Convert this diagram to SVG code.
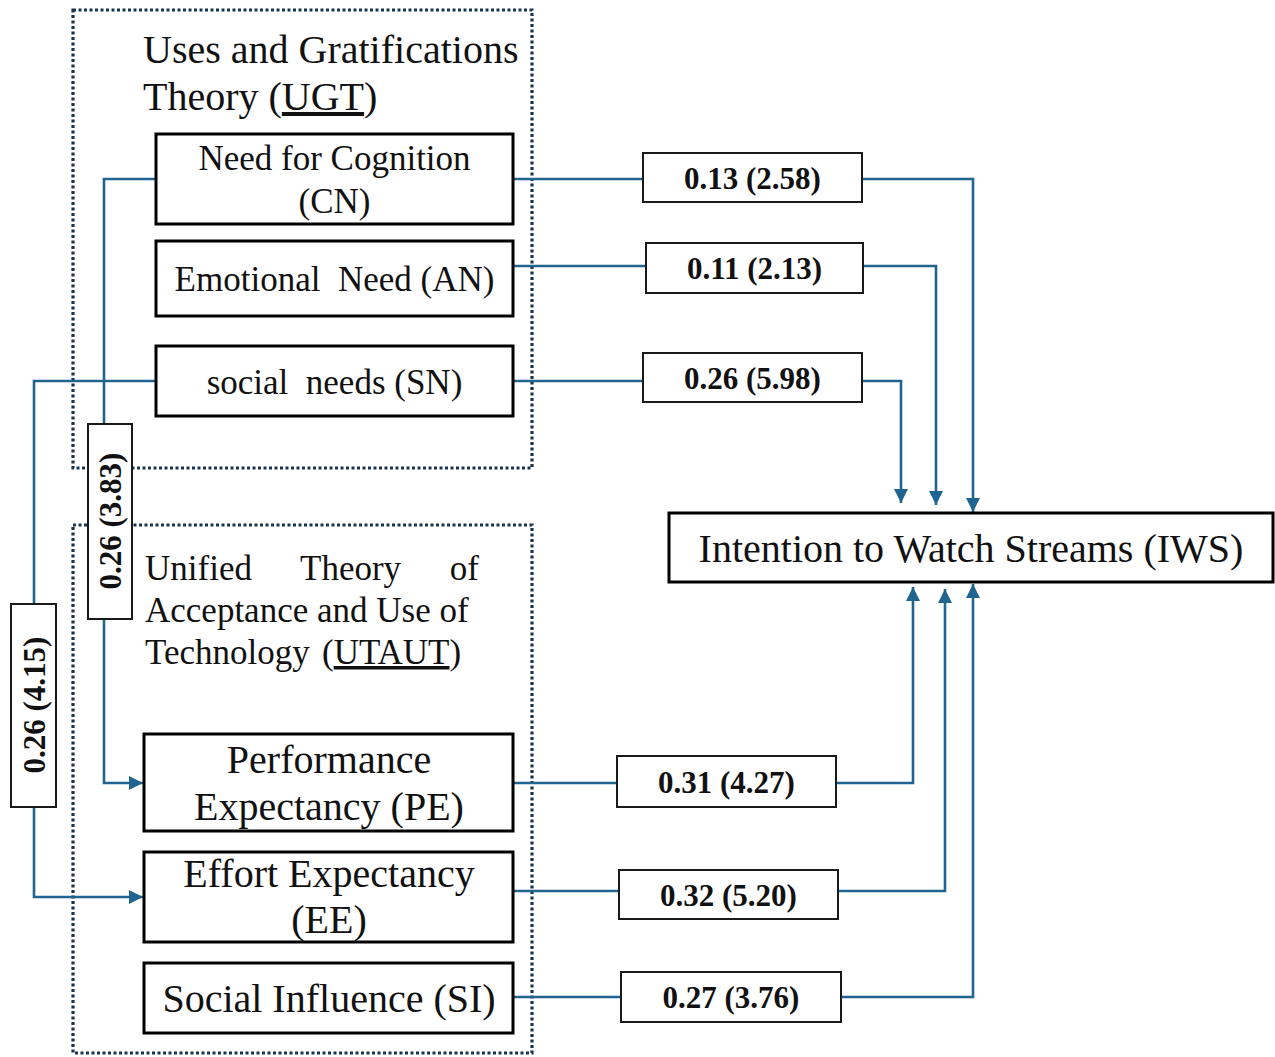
<svg xmlns="http://www.w3.org/2000/svg" width="1275" height="1057" viewBox="0 0 1275 1057">
  <style>
    .frame { fill: none; stroke: #18334f; stroke-width: 3.2; stroke-dasharray: 3 2.5; }
    .node { fill: #ffffff; stroke: #000000; stroke-width: 3; }
    .lbl { fill: #ffffff; stroke: #1a1a1a; stroke-width: 2; }
    .t { font-family: "Liberation Serif", "Times New Roman", serif; fill: #111111; }
    .nt { font-size: 35px; text-anchor: middle; }
    .nb { font-size: 40px; text-anchor: middle; }
    .title { font-size: 40px; }
    .title2 { font-size: 35px; }
    .w { font-size: 31px; font-weight: bold; text-anchor: middle; }
    .edge { fill: none; stroke: #20658f; stroke-width: 2.6; }
    .ul { text-decoration: underline; }
  </style>
  <defs>
    <marker id="arrow" markerUnits="userSpaceOnUse" markerWidth="16" markerHeight="14" refX="14" refY="7" orient="auto">
      <path d="M0,0 L14,7 L0,14 Z" fill="#20658f"/>
    </marker>
  </defs>

  <rect width="1275" height="1057" fill="#ffffff"/>

  <!-- theory frames -->
  <g id="frame-ugt">
    <rect class="frame" x="73" y="10" width="459" height="458"/>
    <text class="t title" x="143" y="63">Uses and Gratifications</text>
    <text class="t title" x="143" y="110">Theory (<tspan class="ul">UGT</tspan>)</text>
  </g>
  <g id="frame-utaut">
    <rect class="frame" x="73" y="525" width="459" height="528"/>
    <text class="t title2" x="145" y="580">Unified</text>
    <text class="t title2" x="300" y="580">Theory</text>
    <text class="t title2" x="479" y="580" text-anchor="end">of</text>
    <text class="t title2" x="145" y="622">Acceptance and Use of</text>
    <text class="t title2" x="145" y="664">Technology</text>
    <text class="t title2" x="322" y="664">(<tspan class="ul">UTAUT</tspan>)</text>
  </g>

  <!-- connectors -->
  <g id="connectors">
    <path class="edge" d="M513,179 H643"/>
    <path class="edge" d="M862,179 H973 V512" marker-end="url(#arrow)"/>
    <path class="edge" d="M513,266 H646"/>
    <path class="edge" d="M863,266 H936 V505" marker-end="url(#arrow)"/>
    <path class="edge" d="M513,381 H643"/>
    <path class="edge" d="M861,381 H901 V503" marker-end="url(#arrow)"/>

    <path class="edge" d="M513,783 H617"/>
    <path class="edge" d="M836,783 H913 V587" marker-end="url(#arrow)"/>
    <path class="edge" d="M513,891 H619"/>
    <path class="edge" d="M838,891 H945 V589" marker-end="url(#arrow)"/>
    <path class="edge" d="M513,997 H621"/>
    <path class="edge" d="M841,997 H973 V584" marker-end="url(#arrow)"/>

    <path class="edge" d="M156,179 H104 V783 H143" marker-end="url(#arrow)"/>
    <path class="edge" d="M156,381 H34 V897 H143" marker-end="url(#arrow)"/>
  </g>

  <!-- path coefficient labels -->
  <g id="w-cn">
    <rect class="lbl" x="643" y="153" width="219" height="49"/>
    <text class="t w" x="752.5" y="189">0.13 (2.58)</text>
  </g>
  <g id="w-an">
    <rect class="lbl" x="646" y="243" width="217" height="50"/>
    <text class="t w" x="754.5" y="279">0.11 (2.13)</text>
  </g>
  <g id="w-sn">
    <rect class="lbl" x="643" y="353" width="219" height="49"/>
    <text class="t w" x="752.5" y="389">0.26 (5.98)</text>
  </g>
  <g id="w-pe">
    <rect class="lbl" x="617" y="756" width="219" height="51"/>
    <text class="t w" x="726.5" y="793">0.31 (4.27)</text>
  </g>
  <g id="w-ee">
    <rect class="lbl" x="619" y="870" width="219" height="49"/>
    <text class="t w" x="728.5" y="906">0.32 (5.20)</text>
  </g>
  <g id="w-si">
    <rect class="lbl" x="621" y="972" width="220" height="50"/>
    <text class="t w" x="731" y="1008">0.27 (3.76)</text>
  </g>
  <g id="w-cn-pe">
    <rect class="lbl" x="88" y="424" width="44" height="195"/>
    <text class="t w" transform="translate(110,521) rotate(-90)" x="0" y="11">0.26 (3.83)</text>
  </g>
  <g id="w-sn-ee">
    <rect class="lbl" x="11" y="604" width="45" height="203"/>
    <text class="t w" transform="translate(33.5,705) rotate(-90)" x="0" y="11">0.26 (4.15)</text>
  </g>

  <!-- constructs -->
  <g id="cn">
    <rect class="node" x="156" y="134" width="357" height="90"/>
    <text class="t nt" x="334.5" y="170">Need for Cognition</text>
    <text class="t nt" x="334.5" y="213">(CN)</text>
  </g>
  <g id="an">
    <rect class="node" x="156" y="241" width="357" height="75"/>
    <text class="t nt" x="334.5" y="291">Emotional&#160; Need (AN)</text>
  </g>
  <g id="sn">
    <rect class="node" x="156" y="346" width="357" height="70"/>
    <text class="t nt" x="334.5" y="394">social&#160; needs (SN)</text>
  </g>
  <g id="pe">
    <rect class="node" x="144" y="734" width="369" height="97"/>
    <text class="t nb" x="329" y="773">Performance</text>
    <text class="t nb" x="329" y="820">Expectancy (PE)</text>
  </g>
  <g id="ee">
    <rect class="node" x="144" y="852" width="369" height="90"/>
    <text class="t nb" x="329" y="887">Effort Expectancy</text>
    <text class="t nb" x="329" y="933">(EE)</text>
  </g>
  <g id="si">
    <rect class="node" x="144" y="963" width="369" height="70"/>
    <text class="t nb" x="329" y="1012">Social Influence (SI)</text>
  </g>
  <g id="iws">
    <rect class="node" x="669" y="513" width="604" height="69"/>
    <text class="t nb" x="971" y="562">Intention to Watch Streams (IWS)</text>
  </g>
</svg>
